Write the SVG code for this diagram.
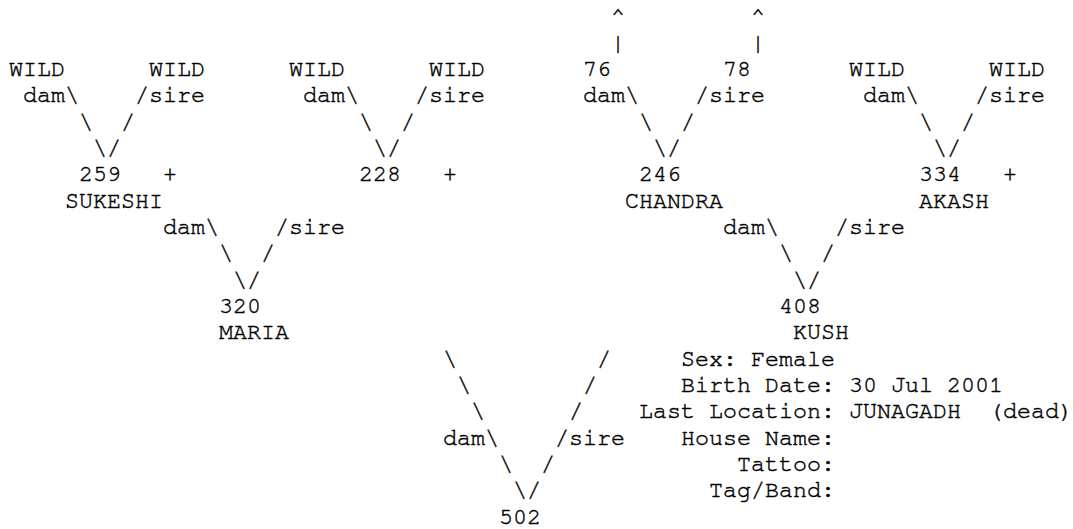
<svg xmlns="http://www.w3.org/2000/svg" width="1073" height="529" viewBox="0 0 1073 529">
<style>
text{font-family:"Nimbus Mono PS","Nimbus Mono L",FreeMono,"Courier New","Liberation Mono",monospace;font-size:23.33px;fill:#000;stroke:#000;stroke-width:0.45px;}
</style>
<rect x="0" y="0" width="1073" height="529" fill="#fff"/>
<g id="connectors">
<text x="611" y="23.3">^</text><text x="751" y="23.3">^</text>
<text x="611" y="49.6">|</text><text x="751" y="49.6">|</text>
<text x="23" y="102.3">dam\</text><text x="135" y="102.3">/sire</text>
<text x="303" y="102.3">dam\</text><text x="415" y="102.3">/sire</text>
<text x="583" y="102.3">dam\</text><text x="695" y="102.3">/sire</text>
<text x="863" y="102.3">dam\</text><text x="975" y="102.3">/sire</text>
<text x="79" y="128.7">\</text><text x="121" y="128.7">/</text>
<text x="359" y="128.7">\</text><text x="401" y="128.7">/</text>
<text x="639" y="128.7">\</text><text x="681" y="128.7">/</text>
<text x="919" y="128.7">\</text><text x="961" y="128.7">/</text>
<text x="93" y="155">\/</text><text x="373" y="155">\/</text>
<text x="653" y="155">\/</text><text x="933" y="155">\/</text>
<text x="163" y="234">dam\</text><text x="275" y="234">/sire</text>
<text x="723" y="234">dam\</text><text x="835" y="234">/sire</text>
<text x="219" y="260.3">\</text><text x="261" y="260.3">/</text>
<text x="779" y="260.3">\</text><text x="821" y="260.3">/</text>
<text x="233" y="286.7">\/</text><text x="793" y="286.7">\/</text>
<text x="443" y="365.6">\</text><text x="597" y="365.6">/</text>
<text x="457" y="392">\</text><text x="583" y="392">/</text>
<text x="471" y="418.3">\</text><text x="569" y="418.3">/</text>
<text x="443" y="444.6">dam\</text><text x="555" y="444.6">/sire</text>
<text x="499" y="471">\</text><text x="541" y="471">/</text>
<text x="513" y="497.3">\/</text>
</g>
<g id="wild1"><text x="9" y="76">WILD</text></g>
<g id="wild2"><text x="149" y="76">WILD</text></g>
<g id="wild3"><text x="289" y="76">WILD</text></g>
<g id="wild4"><text x="429" y="76">WILD</text></g>
<g id="n76"><text x="583" y="76">76</text></g>
<g id="n78"><text x="723" y="76">78</text></g>
<g id="wild5"><text x="849" y="76">WILD</text></g>
<g id="wild6"><text x="989" y="76">WILD</text></g>
<g id="n259"><text x="79" y="181.3">259</text><text x="163" y="181.3">+</text><text x="65" y="207.7">SUKESHI</text></g>
<g id="n228"><text x="359" y="181.3">228</text><text x="443" y="181.3">+</text></g>
<g id="n246"><text x="639" y="181.3">246</text><text x="625" y="207.7">CHANDRA</text></g>
<g id="n334"><text x="919" y="181.3">334</text><text x="1003" y="181.3">+</text><text x="919" y="207.7">AKASH</text></g>
<g id="n320"><text x="219" y="313">320</text><text x="219" y="339.3">MARIA</text></g>
<g id="n408"><text x="779" y="313">408</text><text x="793" y="339.3">KUSH</text></g>
<g id="n502"><text x="499" y="523.6">502</text></g>
<g id="info">
<text x="681" y="365.6">Sex: Female</text>
<text x="681" y="392">Birth Date: 30 Jul 2001</text>
<text x="639" y="418.3" xml:space="preserve">Last Location: JUNAGADH  (dead)</text>
<text x="681" y="444.6">House Name:</text>
<text x="737" y="471">Tattoo:</text>
<text x="709" y="497.3">Tag/Band:</text>
</g>
</svg>
